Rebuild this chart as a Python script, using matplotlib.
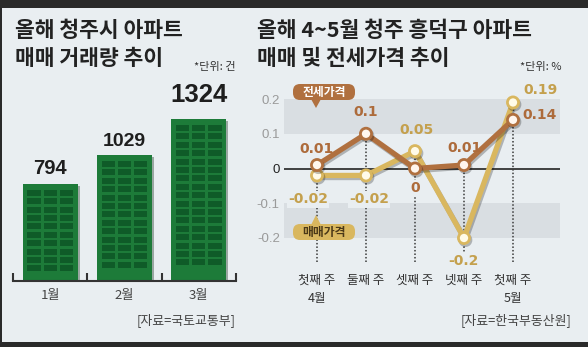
import matplotlib
matplotlib.use("Agg")
import matplotlib.pyplot as plt
import matplotlib.patheffects as pe
from matplotlib.patches import Rectangle, FancyBboxPatch, Polygon

plt.rcParams["font.family"] = ["Noto Sans CJK KR", "DejaVu Sans"]

# ---- data -------------------------------------------------------------
months = ["1월", "2월", "3월"]
trades = [794, 1029, 1324]

weeks = ["첫째 주\n4월", "둘째 주", "셋째 주", "넷째 주", "첫째 주\n5월"]
jeonse = [0.01, 0.10, 0.00, 0.01, 0.14]
sale = [-0.02, -0.02, 0.05, -0.20, 0.19]

# ---- style ------------------------------------------------------------
BG = "#e9eef1"
BAND = "#d9dee2"
DARK = "#2a2a2a"
GREEN = "#1d7b39"
WINDOW = "#0f5b28"
BROWN = "#b0703f"
BROWN_TXT = "#ad6b3b"
GOLD = "#d9b75f"
GOLD_TXT = "#c4a04d"
NUM_FONT = ["Liberation Sans Narrow", "Liberation Sans", "DejaVu Sans"]

W, H = 588, 347
fig = plt.figure(figsize=(W / 100, H / 100), dpi=100, facecolor=BG)


def rect(x0, y0, x1, y1):
    """Axes rectangle from pixel box (top-left origin)."""
    return [x0 / W, 1 - y1 / H, (x1 - x0) / W, (y1 - y0) / H]


# ---- left: monthly trade volume --------------------------------------
PX_PER_UNIT = 0.1224          # vertical pixels per trade
axl = fig.add_axes(rect(13, 60, 236, 281))
axl.patch.set_visible(False)
axl.set_xlim(-0.5, 2.5)
axl.set_ylim(0, 221 / PX_PER_UNIT)
bar_w = 0.74
bars = axl.bar(range(len(trades)), trades, width=bar_w, color=GREEN, zorder=2,
               path_effects=[pe.SimplePatchShadow(offset=(1.5, -1.5), alpha=0.35),
                             pe.Normal()])

# window grid on each building-shaped bar
px_x = 223 / 3.0
win_w, gap_w = 13.3 / px_x, 2.8 / px_x
margin_x = (bar_w - 3 * win_w - 2 * gap_w) / 2
top_m, bot_m = 6 / PX_PER_UNIT, 8 / PX_PER_UNIT
win_h, pitch = 6 / PX_PER_UNIT, 8.4 / PX_PER_UNIT
for i, v in enumerate(trades):
    n_rows = int((v - top_m - bot_m + (pitch - win_h)) // pitch)
    for r in range(n_rows):
        y_top = v - top_m - r * pitch
        for c in range(3):
            x0 = i - bar_w / 2 + margin_x + c * (win_w + gap_w)
            axl.add_patch(Rectangle((x0, y_top - win_h), win_w, win_h,
                                    color=WINDOW, lw=0, zorder=3))

label_cfg = [(14.5, 15), (14, 14), (18.5, 24)]   # (font size, offset px)
for i, v in enumerate(trades):
    fs, off = label_cfg[i]
    axl.annotate(f"{v}", (i, v), xytext=(0, off * 0.72), textcoords="offset points",
                 ha="center", va="center", fontsize=fs, fontweight="bold",
                 family=NUM_FONT, color="#1e1e1e")

for s in ["top", "left", "right"]:
    axl.spines[s].set_visible(False)
axl.spines["bottom"].set_color("#333333")
axl.spines["bottom"].set_linewidth(1.5)
axl.set_yticks([])
axl.set_xticks(range(len(months)))
axl.set_xticklabels(months, fontsize=9.5, color="#444444")
axl.tick_params(axis="x", which="major", length=0, pad=6)
axl.set_xticks([-0.5, 0.5, 1.5, 2.5], minor=True)
axl.tick_params(axis="x", which="minor", direction="in", length=6, width=1.5,
                color="#333333")

# ---- right: weekly price change --------------------------------------
axr = fig.add_axes(rect(284, 64.25, 560, 272.75))
axr.patch.set_visible(False)
axr.set_xlim(-(317 - 284) / 49, 4 + (560 - 513) / 49)
axr.set_ylim(-0.3, 0.3)
axr.axhspan(0.1, 0.2, color=BAND, lw=0, zorder=0)
axr.axhspan(-0.2, -0.1, color=BAND, lw=0, zorder=0)
axr.axhline(0, color="#333333", lw=1.3, zorder=1)

xs = list(range(len(weeks)))
for i in xs:
    axr.vlines(i, -0.27, max(jeonse[i], sale[i]), colors="#3a3a3a",
               linestyles=(0, (1, 1.3)), lw=1.1, zorder=1)

shadow = [pe.SimpleLineShadow(offset=(1, -1.5), alpha=0.25), pe.Normal()]
axr.plot(xs, sale, color=GOLD, lw=3.8, marker="o", ms=8, mfc="#fffbe9",
         mec=GOLD, mew=2, zorder=3, path_effects=shadow, solid_capstyle="round")
axr.plot(xs, jeonse, color=BROWN, lw=3.8, marker="o", ms=8, mfc="#fff6ee",
         mec=BROWN, mew=2, zorder=4, path_effects=shadow, solid_capstyle="round")

# value labels: (dx px, dy px) relative to the point, screen up = positive
jeonse_off = [(0, 16), (0, 22), (0, -20), (0, 17), (27, 5)]
sale_off = [(-9, -24), (3, -24), (1, 21), (-1, -23), (27, 12)]


def fmt(v):
    return f"{v:g}"


for i in xs:
    for vals, offs, col in ((jeonse, jeonse_off, BROWN_TXT), (sale, sale_off, GOLD_TXT)):
        dx, dy = offs[i]
        kw = {}
        if dy < 0:
            kw["bbox"] = dict(boxstyle="square,pad=0.1", fc=BG, ec="none")
        axr.annotate(fmt(vals[i]), (i, vals[i]), xytext=(dx * 0.72, dy * 0.72),
                     textcoords="offset points", ha="center", va="center",
                     fontsize=10, fontweight="bold", family="DejaVu Sans",
                     color=col, zorder=6, **kw)

for s in ["top", "left", "right", "bottom"]:
    axr.spines[s].set_visible(False)
yt = [-0.2, -0.1, 0, 0.1, 0.2]
axr.set_yticks(yt)
axr.set_yticklabels([fmt(v) for v in yt], fontsize=9.5, family="Liberation Sans")
for lab, v in zip(axr.get_yticklabels(), yt):
    lab.set_color("#222222" if v == 0 else "#9a9a9a")
axr.tick_params(axis="y", length=0, pad=3)
axr.set_xticks(xs)
axr.set_xticklabels(weeks, fontsize=9, color="#333333", linespacing=1.45)
axr.tick_params(axis="x", length=0, pad=1)

# ---- overlay in pixel coordinates: frame, titles, callouts -------------
ov = fig.add_axes([0, 0, 1, 1])
ov.set_xlim(0, W)
ov.set_ylim(H, 0)
ov.axis("off")
ov.patch.set_visible(False)
ov.set_zorder(10)

ov.add_patch(Rectangle((0, 0), W, 8, color=DARK, lw=0))
ov.add_patch(Rectangle((0, 342), W, 5, color=DARK, lw=0))
ov.add_patch(Rectangle((0, 0), 1.5, H, color=DARK, lw=0))

title_kw = dict(fontsize=15.5, fontweight="bold", color="#222222", va="center")
ov.text(15, 30, "올해 청주시 아파트", **title_kw)
ov.text(15, 58, "매매 거래량 추이", **title_kw)
ov.text(257, 30, "올해 4~5월 청주 흥덕구 아파트", **title_kw)
ov.text(257, 58, "매매 및 전세가격 추이", **title_kw)

ov.text(236, 67, "*단위: 건", ha="right", va="center", fontsize=8, color="#333333")
ov.text(561, 67, "*단위: %", ha="right", va="center", fontsize=8, color="#333333")
ov.text(236, 320, "[자료=국토교통부]", ha="right", va="center", fontsize=9.3,
        color="#444444")
ov.text(571, 320, "[자료=한국부동산원]", ha="right", va="center", fontsize=9.3,
        color="#444444")

# legend callouts
ov.add_patch(FancyBboxPatch((295, 86), 58, 12, boxstyle="round,pad=2,rounding_size=7",
                            fc=BROWN, ec="none"))
ov.add_patch(Polygon([(311, 99), (321, 99), (316, 108)], closed=True, fc=BROWN, ec="none"))
ov.text(324, 92, "전세가격", ha="center", va="center", fontsize=8.5,
        fontweight="bold", color="white")

ov.add_patch(FancyBboxPatch((295, 226), 58, 12, boxstyle="round,pad=2,rounding_size=7",
                            fc=GOLD, ec="none"))
ov.add_patch(Polygon([(311, 225), (321, 225), (316, 215)], closed=True, fc=GOLD, ec="none"))
ov.text(324, 232, "매매가격", ha="center", va="center", fontsize=8.5,
        fontweight="bold", color="#4a3818")

fig.savefig("out.png", dpi=100, facecolor=BG)
